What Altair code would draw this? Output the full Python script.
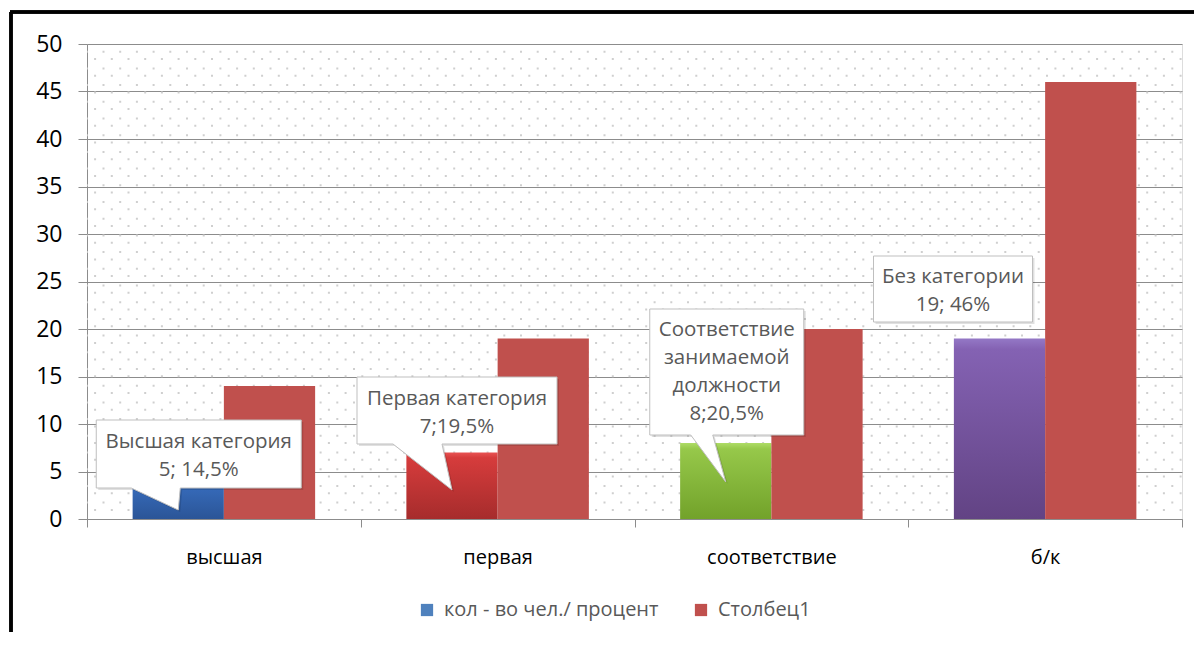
import json
import altair as alt
import pandas as pd

# ---- data ----
categories = ["высшая", "первая", "соответствие", "б/к"]
series_names = ["кол - во чел./ процент", "Столбец1"]
series1 = [5, 7, 8, 19]
series2 = [14, 19, 20, 46]
callout_texts = [
    ["Высшая категория", "5; 14,5%"],
    ["Первая категория", "7;19,5%"],
    ["Соответствие", "занимаемой", "должности", "8;20,5%"],
    ["Без категории", "19; 46%"],
]
y_ticks = list(range(0, 51, 5))

# ---- styles ----
W, H = 1095, 475
FONT = "Open Sans"
GRID = "#8c8c8c"
TXT = "#595959"
legend_colors = ["#4F81BD", "#C0504D"]
bar_gradients = [
    [("#4a86d6", 0), ("#3a72c6", 0.08), ("#2b5597", 1)],
    [("#e85252", 0), ("#d63c3c", 0.08), ("#a62c2c", 1)],
    [("#aedc66", 0), ("#96c84a", 0.08), ("#72a22a", 1)],
    [("#9478c6", 0), ("#8462b3", 0.06), ("#624384", 1)],
]
# callout geometry (pixels, relative to the top of the series-1 bar)
callout_style = [
    dict(box=(-82, -51.5, 123, 16.5), ptr=(-47, 2, 0, 38.5), dx=20.5, dy=-30),
    dict(box=(-95, -75.5, 105, -8.5), ptr=(-59, -10, 0, 37.5), dx=5, dy=-54),
    dict(box=(-76, -134, 78, -8), ptr=(-35, -13, 0, 39), dx=1, dy=-113),
    dict(box=(-126, -82.5, 33, -16.5), ptr=None, dx=-46.5, dy=-62),
]

n = len(categories)
df = pd.DataFrame({
    "idx": list(range(n)),
    "cat": categories,
    "s1": series1,
    "s2": series2,
})
df["x0"] = df["idx"] + 1 / 6
df["xm"] = df["idx"] + 0.5
df["x1"] = df["idx"] + 5 / 6
df["xa"] = df["idx"] + 1 / 3
df["series"] = series_names[1]

xscale = alt.Scale(domain=[0, n], nice=False, zero=False)
yscale = alt.Scale(domain=[0, 50], nice=False)

label_expr = ("datum.value % 1 === 0 ? '' : "
              + json.dumps(categories, ensure_ascii=False)
              + "[floor(datum.value)]")
x_axis = alt.Axis(
    values=[i / 2 for i in range(2 * n + 1)], labelExpr=label_expr,
    title=None, grid=False, domainColor=GRID, tickColor=GRID, tickSize=8,
    tickOpacity={"condition": {"test": "datum.value % 1 !== 0", "value": 0}, "value": 1},
    labelFontSize=20, labelColor="black", labelPadding=20,
    labelOverlap=False, labelFlush=False, labelFont=FONT,
)
y_axis = alt.Axis(
    values=y_ticks, title=None, grid=True, gridColor=GRID, gridWidth=1,
    domainColor=GRID, tickColor=GRID, tickSize=9, labelFontSize=23,
    labelColor="black", labelPadding=16, labelFont=FONT,
)

base = alt.Chart(df)

# dotted background texture
dot_rows_a = pd.DataFrame({"y": [50 - (7.7 + 16.7 * m) / 9.5 for m in range(29) if 7.7 + 16.7 * m < H]})
dot_rows_b = pd.DataFrame({"y": [50 - (15.0 + 16.7 * m) / 9.5 for m in range(29) if 15.0 + 16.7 * m < H]})
dots_a = alt.Chart(dot_rows_a).mark_rule(
    color="#cfcfcf", strokeWidth=2, strokeDash=[2, 14.7], strokeDashOffset=8.0
).encode(y=alt.Y("y:Q", scale=yscale, axis=y_axis))
dots_b = alt.Chart(dot_rows_b).mark_rule(
    color="#cfcfcf", strokeWidth=2, strokeDash=[2, 14.7], strokeDashOffset=16.3
).encode(y=alt.Y("y:Q", scale=yscale))

layers = [dots_a, dots_b]

# series 1 bars (per-category gradient)
for i in range(n):
    stops = [alt.GradientStop(color=c, offset=o) for c, o in bar_gradients[i]]
    grad = alt.LinearGradient(gradient="linear", stops=stops, x1=0, x2=0, y1=0, y2=1)
    layers.append(
        base.transform_filter(alt.datum.idx == i).mark_rect(color=grad).encode(
            x=alt.X("x0:Q", scale=xscale, axis=x_axis),
            x2="xm:Q",
            y=alt.Y("s1:Q", scale=yscale),
            y2=alt.datum(0),
        )
    )

# series 2 bars + legend
layers.append(
    base.mark_rect().encode(
        x=alt.X("xm:Q", scale=xscale),
        x2="x1:Q",
        y=alt.Y("s2:Q", scale=yscale),
        y2=alt.datum(0),
        color=alt.Color(
            "series:N",
            scale=alt.Scale(domain=series_names, range=legend_colors),
            legend=alt.Legend(
                title=None, orient="none", direction="horizontal",
                legendX=330, legendY=556, symbolType="square", symbolSize=150,
                symbolStrokeWidth=0, labelFontSize=20, labelColor=TXT,
                labelFont=FONT, columnPadding=32, labelOffset=7, labelLimit=0,
            ),
        ),
    )
)


def callout_path(st, off=0.0):
    l, t, r, b = st["box"]
    l, t, r, b = l + off, t + off, r + off, b + off
    p = st["ptr"]
    if p is None:
        return f"M{l},{t}H{r}V{b}H{l}Z"
    pl, pr, tx, ty = p
    pl, pr, tx, ty = pl + off, pr + off, tx + off, ty + off
    return f"M{l},{t}H{r}V{b}H{pr}L{tx},{ty}L{pl},{b}H{l}Z"


for i in range(n):
    st = callout_style[i]
    sub = base.transform_filter(alt.datum.idx == i)
    enc = dict(x=alt.X("xa:Q", scale=xscale), y=alt.Y("s1:Q", scale=yscale))
    layers.append(sub.mark_point(shape=callout_path(st, 2), size=4, filled=True,
                                 color="#000000", opacity=0.12, strokeWidth=0).encode(**enc))
    layers.append(sub.mark_point(shape=callout_path(st), size=4, filled=True, fill="white",
                                 stroke="#bfbfbf", strokeWidth=1, opacity=1).encode(**enc))
    layers.append(sub.mark_text(text=callout_texts[i], dx=st["dx"], dy=st["dy"], lineHeight=28,
                                align="center", baseline="middle", fontSize=20.5, color=TXT,
                                font=FONT).encode(**enc))

# outer frame
frame_top = alt.Chart(df).mark_rule(color="black", strokeWidth=3).encode(
    x=alt.value(-77), x2=alt.value(1107), y=alt.value(-32))
frame_left = alt.Chart(df).mark_rule(color="black", strokeWidth=3).encode(
    x=alt.value(-76), y=alt.value(-32), y2=alt.value(590))
layers += [frame_top, frame_left]

chart = alt.layer(*layers).resolve_scale(color="independent").properties(
    width=W, height=H,
    padding={"left": 79, "top": 36, "right": 12, "bottom": 113},
    autosize=alt.AutoSizeParams(type="none"),
    background="white",
).configure_view(stroke=None).configure(font=FONT)

chart.save("out.html", embed_options={"renderer": "svg", "actions": False})
